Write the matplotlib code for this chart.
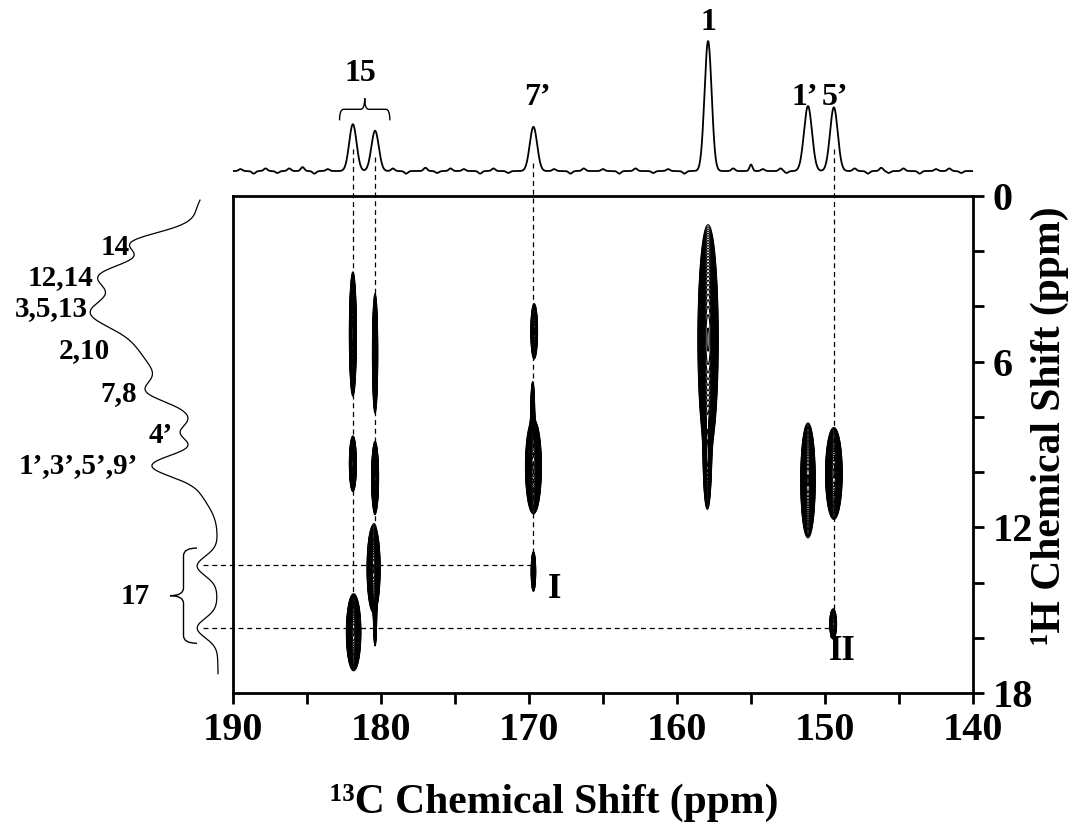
import numpy as np
import matplotlib
matplotlib.use("Agg")
import matplotlib.pyplot as plt
from matplotlib.path import Path
from matplotlib.patches import PathPatch

# ---- spectre 13C (projection du haut) ----
c13_pics = [181.9, 180.4, 169.7, 157.9, 151.15, 149.4, 155.0]
c13_hauteurs = [0.36, 0.31, 0.34, 1.0, 0.50, 0.49, 0.05]
c13_largeurs = [0.25, 0.25, 0.25, 0.24, 0.27, 0.26, 0.10]

# petites oscillations de la ligne de base
bruit_pos = [189.5, 188.6, 187.8, 187.0, 186.2, 185.3, 184.5, 183.6, 179.2, 178.3,
             177.0, 176.2, 175.3, 174.4, 173.3, 172.4, 171.4, 168.3, 167.2, 166.3,
             165.0, 163.9, 162.8, 161.6, 160.6, 159.5, 156.2, 154.2, 153.0, 152.6,
             148.0, 147.1, 146.2, 145.7, 144.7, 143.6, 142.5, 141.6, 140.8]
bruit_amp = [0.015, -0.02, 0.02, -0.015, 0.02, 0.03, -0.02, 0.015, 0.02, -0.02,
             0.025, -0.015, 0.02, 0.015, -0.02, 0.02, -0.015, 0.015, -0.02, 0.02,
             0.015, -0.02, 0.02, -0.015, 0.015, -0.02, 0.02, 0.015, 0.02, -0.015,
             0.02, -0.02, 0.025, -0.015, 0.02, -0.02, 0.015, 0.02, -0.015]

# ---- projection 1H (à gauche), intensité en pixels ----
h1_pics = [4.5, 0.2, 1.67, 2.85, 4.2, 7.1, 8.6, 9.75, 10.6, 13.4, 15.65, 14.5]
h1_hauteurs = [90, 5, 45, 50, 40, 26, 20, 55, 15, 20, 20, 3]
h1_largeurs = [2.3, 0.4, 0.35, 0.45, 0.5, 0.35, 0.3, 0.4, 0.6, 0.35, 0.35, 3.0]

# ---- taches de corrélation 2D ----
tache_c13 = [181.9, 181.9, 181.85, 180.4, 180.4, 180.5, 180.4, 169.65, 169.7, 169.75,
             169.7, 157.9, 157.95, 151.15, 149.4, 149.45]
tache_h1 = [5.0, 9.7, 15.8, 5.7, 10.2, 13.5, 15.3, 4.9, 9.8, 7.8, 13.6, 5.2, 9.5,
            10.3, 10.05, 15.5]
tache_sc = [0.11, 0.11, 0.20, 0.09, 0.11, 0.18, 0.06, 0.12, 0.22, 0.07, 0.08, 0.28,
            0.13, 0.20, 0.23, 0.14]
tache_sh = [1.05, 0.47, 0.57, 1.10, 0.60, 0.65, 0.6, 0.53, 0.70, 0.6, 0.38, 1.7, 0.9,
            0.85, 0.68, 0.33]
tache_amp = [0.5, 0.5, 1.0, 0.35, 0.5, 1.0, 0.2, 0.3, 1.0, 0.25, 0.3, 1.0, 0.4, 1.0,
             1.0, 0.2]

# ---- étiquettes ----
haut_textes = ["15", "7’", "1", "1’", "5’"]
haut_x = [181.4, 169.4, 157.9, 151.35, 149.3]
haut_y = [0.754, 0.562, 1.139, 0.562, 0.562]

gauche_textes = ["14", "12,14", "3,5,13", "2,10", "7,8", "4’", "1’,3’,5’,9’", "17"]
gauche_x = [90, 127, 132, 110, 83, 47, 82, 70]
gauche_y = [1.88, 2.97, 4.06, 5.58, 7.14, 8.66, 9.75, 14.5]

# lignes pointillées
vert_x = [181.9, 180.4, 169.7, 149.4]
vert_haut = [-1.7, -1.4, -1.2, -1.7]
vert_bas = [14.5, 12.2, 13.0, 15.1]
horiz_y = [13.37, 15.65]
horiz_fin = [169.7, 149.4]

plt.rcParams["font.family"] = ["Liberation Serif", "DejaVu Serif"]
plt.rcParams["font.weight"] = "bold"

L, H = 1078, 830


def boite(x0, y0, x1, y1):
    return [x0 / L, 1 - y1 / H, (x1 - x0) / L, (y1 - y0) / H]


def gauss(x, centres, hauteurs, largeurs):
    s = np.zeros_like(x)
    for c, h, w in zip(centres, hauteurs, largeurs):
        s += h * np.exp(-(x - c) ** 2 / (2 * w ** 2))
    return s


def accolade(ax, a0, a1, base, haut, vertical=False):
    u = [0, 0, .08, .42, .5, .5, .5, .58, .92, 1, 1]
    v = [0, .5, .5, .5, .5, 1, .5, .5, .5, .5, 0]
    le_long = [a0 + k * (a1 - a0) for k in u]
    travers = [base + k * haut for k in v]
    pts = list(zip(travers, le_long)) if vertical else list(zip(le_long, travers))
    codes = [Path.MOVETO, Path.CURVE3, Path.CURVE3, Path.LINETO, Path.CURVE3,
             Path.CURVE3, Path.CURVE3, Path.CURVE3, Path.LINETO, Path.CURVE3, Path.CURVE3]
    ax.add_patch(PathPatch(Path(pts, codes), fill=False, lw=1.0, color="black",
                           clip_on=False))


fig = plt.figure(figsize=(L / 100, H / 100), dpi=100)
ax = fig.add_axes(boite(233, 196, 973, 693))
ax_haut = fig.add_axes(boite(233, 30, 973, 180), sharex=ax)
ax_gauche = fig.add_axes(boite(0, 196, 220, 693), sharey=ax)

# carte 2D
xc = np.arange(140, 190.01, 0.02)
yh = np.arange(0, 18.01, 0.02)
X, Y = np.meshgrid(xc, yh)
Z = np.zeros_like(X)
for c, h, sc, sh, a in zip(tache_c13, tache_h1, tache_sc, tache_sh, tache_amp):
    Z += a * np.exp(-(X - c) ** 2 / (2 * sc ** 2) - (Y - h) ** 2 / (2 * sh ** 2))
niveaux = np.geomspace(0.05, 0.97, 28)
ax.contour(X, Y, Z, levels=niveaux, colors="black", linewidths=0.8)

ax.set_xlim(190, 140)
ax.set_ylim(18, 0)
ax.set_xticks([190, 180, 170, 160, 150, 140])
ax.set_xticks(np.arange(140, 191, 5), minor=True)
ax.set_yticks([0, 6, 12, 18])
ax.set_yticks(np.arange(0, 19, 2), minor=True)
ax.yaxis.tick_right()
ax.tick_params(which="both", direction="out", length=8, width=2)
ax.tick_params(axis="x", which="major", labelsize=29, pad=6)
ax.tick_params(axis="y", which="major", labelsize=29, pad=6)
for s in ax.spines.values():
    s.set_linewidth(2)

fig.text(554 / L, 1 - 803 / H, "¹³C Chemical Shift (ppm)", fontsize=30,
         ha="center", va="center")
fig.text(1050 / L, 1 - 426 / H, "¹H Chemical Shift (ppm)", fontsize=30,
         ha="center", va="center", rotation=90)

# pointillés
for x, y0, y1 in zip(vert_x, vert_haut, vert_bas):
    ax.plot([x, x], [y0, y1], ls=(0, (4, 3)), color="black", lw=0.9, clip_on=False)
for y, x1 in zip(horiz_y, horiz_fin):
    ax.plot([192.0, x1], [y, y], ls=(0, (4, 3)), color="black", lw=0.9, clip_on=False)
ax.text(168.3, 14.25, "I", fontsize=25, ha="center", va="center")
ax.text(148.85, 16.5, "II", fontsize=25, ha="center", va="center")

# spectre du haut
xs = np.linspace(190, 140, 3000)
spectre = gauss(xs, c13_pics, c13_hauteurs, c13_largeurs)
spectre += gauss(xs, bruit_pos, bruit_amp, [0.12] * len(bruit_pos))
ax_haut.plot(xs, spectre, color="black", lw=1.3)
ax_haut.set_ylim(-0.069, 1.085)
ax_haut.axis("off")
for t, x, y in zip(haut_textes, haut_x, haut_y):
    ax_haut.text(x, y, t, fontsize=23, ha="center", va="center", clip_on=False)
accolade(ax_haut, 182.8, 179.4, 0.39, 0.17)

# projection de gauche
ys = np.linspace(0.15, 17.3, 1500)
proj = gauss(ys, h1_pics, h1_hauteurs, h1_largeurs)
ax_gauche.plot(proj, ys, color="black", lw=0.9)
ax_gauche.set_xlim(220, 0)
ax_gauche.axis("off")
for t, x, y in zip(gauche_textes, gauche_x, gauche_y):
    ax_gauche.text(x, y, t, fontsize=21, ha="right", va="center")
accolade(ax_gauche, 12.75, 16.2, 23, 27, vertical=True)

fig.savefig("out.png", dpi=100)
